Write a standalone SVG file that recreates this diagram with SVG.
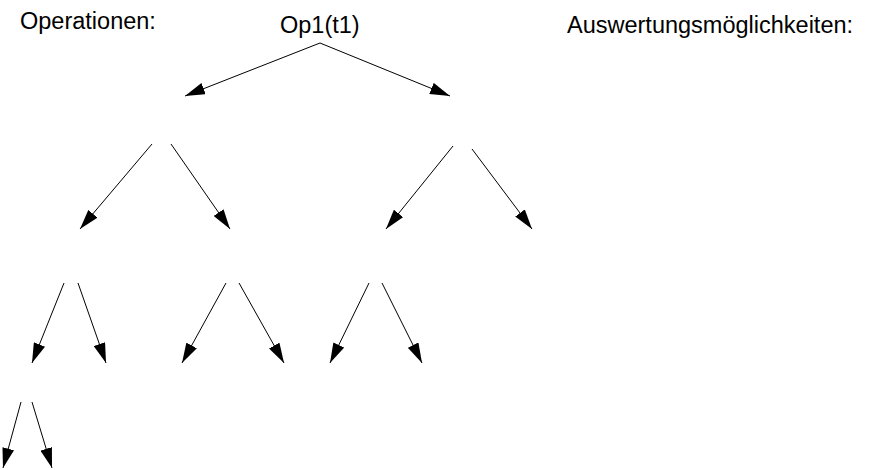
<svg xmlns="http://www.w3.org/2000/svg" width="875" height="470" viewBox="0 0 875 470">
<style>
text { font-family: "Liberation Sans", Arial, sans-serif; font-size: 23.5px; fill: #000; }
.c line { stroke: #000; stroke-width: 1; marker-end: url(#ah); }
</style>
<defs>
<marker id="ah" viewBox="0 0 20 12" markerWidth="20" markerHeight="12" markerUnits="userSpaceOnUse" refX="20" refY="6" orient="auto">
<path d="M0,0 L20,6 L0,12 z" fill="#000"/>
</marker>
</defs>
<rect width="875" height="470" fill="#fff"/>
<g id="label-operationen"><text x="20" y="29">Operationen:</text></g>
<g id="root"><text x="280" y="33">Op1(t1)</text></g>
<g id="label-auswertung"><text x="567" y="33">Auswertungsmöglichkeiten:</text></g>
<g class="c" id="connectors">
<line x1="320" y1="43" x2="185" y2="96"/>
<line x1="320" y1="43" x2="450" y2="96"/>
<line x1="152" y1="144" x2="80" y2="229"/>
<line x1="171" y1="144" x2="230" y2="229"/>
<line x1="453" y1="146" x2="386" y2="229"/>
<line x1="472" y1="149" x2="532" y2="229"/>
<line x1="64" y1="283" x2="32" y2="363"/>
<line x1="78" y1="283" x2="106" y2="363"/>
<line x1="226" y1="283" x2="182" y2="363"/>
<line x1="239" y1="283" x2="284" y2="363"/>
<line x1="369" y1="283" x2="330" y2="363"/>
<line x1="382" y1="283" x2="422" y2="363"/>
<line x1="21" y1="402" x2="3" y2="468"/>
<line x1="32" y1="402" x2="52" y2="468"/>
</g>
</svg>
